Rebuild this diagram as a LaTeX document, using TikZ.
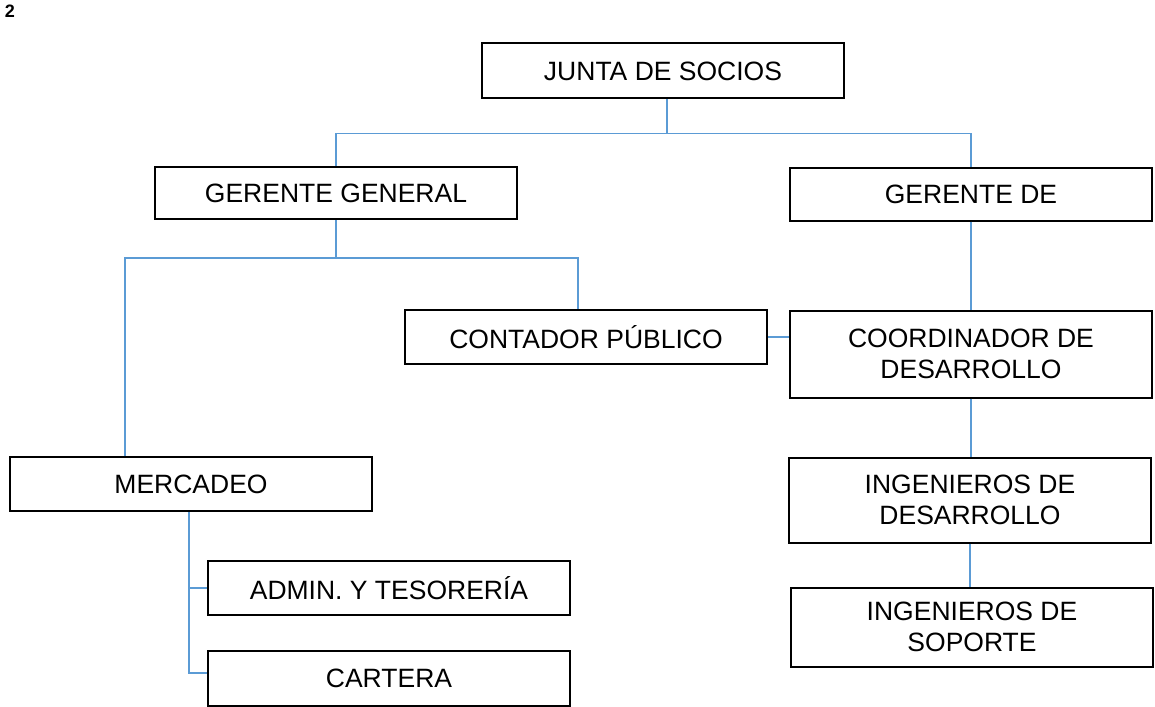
\documentclass[tikz,border=0pt]{standalone}
\usepackage{fontspec}
\setmainfont{Liberation Sans}
\usepackage{tikz}
\usetikzlibrary{positioning}
\definecolor{linkblue}{RGB}{91,155,213}

\begin{document}
\begin{tikzpicture}[x=1pt,y=-1pt]
		\tikzset{box style/.style={draw,
				line width=2pt,
				minimum width=362pt,
				align=center,
				font=\fontsize{26.5}{30.5}\selectfont},
			link/.style={draw=linkblue, line width=1.8pt}}
		\useasboundingbox (0,0) rectangle (1155,706);

		\node[font=\bfseries\fontsize{18}{20}\selectfont, inner sep=0pt] at (10,11) (num) {2};

		% Draw the boxes
		\node[box style, minimum height=55pt] at (663,71) (junta) {JUNTA DE SOCIOS};
		\node[box style, minimum height=52pt] at (336,193) (gg) {GERENTE GENERAL};
		\node[box style, minimum height=53pt] at (971,194) (gd) {GERENTE DE};
		\node[box style, minimum height=54pt] at (586,337) (cont) {CONTADOR PÚBLICO};
		\node[box style, minimum height=87pt] at (971,354) (coord) {COORDINADOR DE\\DESARROLLO};
		\node[box style, minimum height=54pt] at (191,484) (merc) {MERCADEO};
		\node[box style, minimum height=85pt] at (970,500) (ingdes) {INGENIEROS DE\\DESARROLLO};
		\node[box style, minimum height=54pt] at (389,588) (admin) {ADMIN. Y TESORERÍA};
		\node[box style, minimum height=79pt] at (972,627) (ingsop) {INGENIEROS DE\\SOPORTE};
		\node[box style, minimum height=55pt] at (389,678) (cartera) {CARTERA};

		% Connect the boxes
		\draw[link] ([xshift=4pt]junta.south) -- ++(0,34) coordinate (jt);
		\draw[link] (gg.north) |- (jt) -| (gd.north);
		\draw[link] (gg.south) -- ++(0,38) coordinate (gt);
		\draw[link] ([xshift=-66pt]merc.north) |- (gt) -| ([xshift=-8pt]cont.north);
		\draw[link] (cont.east) -- (cont.east -| coord.west);
		\draw[link] (gd.south) -- (coord.north);
		\draw[link] (coord.south) -- (coord.south |- ingdes.north);
		\draw[link] (ingdes.south) -- (ingdes.south |- ingsop.north);
		\draw[link] ([xshift=-2pt]merc.south) |- (admin.west);
		\draw[link] ([xshift=-2pt]merc.south) |- ([yshift=5pt]cartera.west);
\end{tikzpicture}
\end{document}
